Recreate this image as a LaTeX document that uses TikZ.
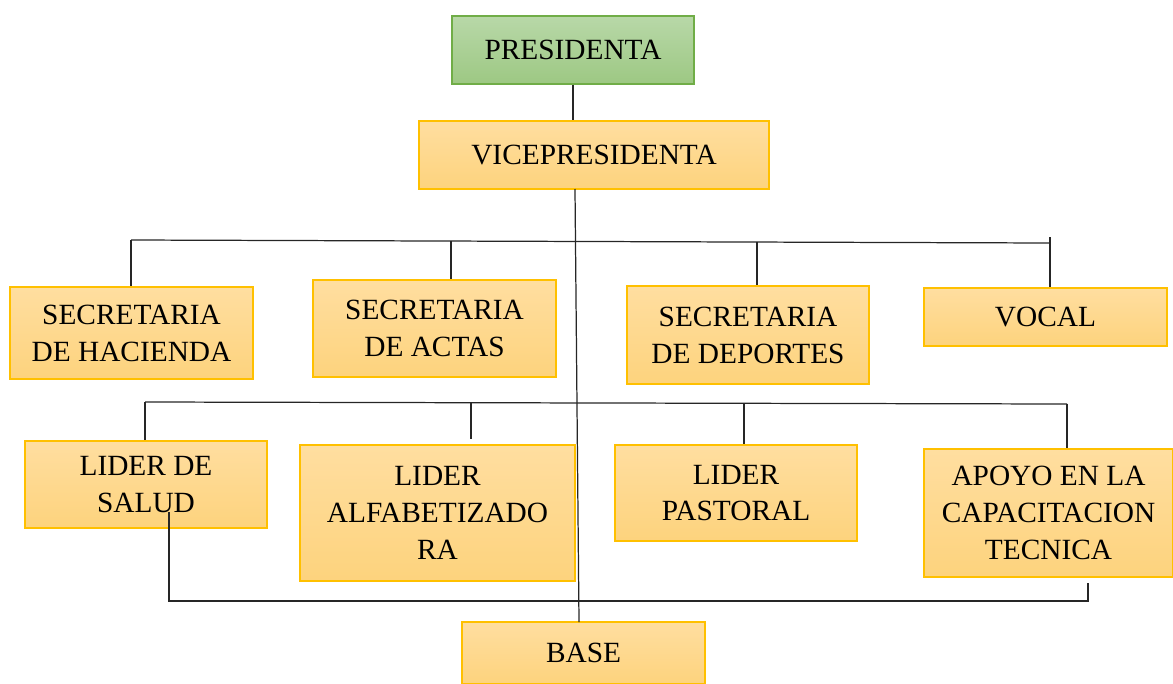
\documentclass[tikz,border=0pt]{standalone}
\usepackage{fontspec}
\setmainfont{Liberation Serif}

\definecolor{orgborde}{RGB}{255,192,0}
\definecolor{orgarriba}{RGB}{255,222,160}
\definecolor{orgabajo}{RGB}{253,211,125}
\definecolor{verdeborde}{RGB}{112,173,71}
\definecolor{verdearriba}{RGB}{184,216,168}
\definecolor{verdeabajo}{RGB}{157,200,131}

\tikzstyle{cargo}=[draw=orgborde,line width=0.8pt,top color=orgarriba,bottom color=orgabajo,inner sep=0pt,align=center,font=\fontsize{16.7}{21}\selectfont]
\tikzstyle{jefa}=[cargo,draw=verdeborde,top color=verdearriba,bottom color=verdeabajo]
\tikzstyle{linea}=[line width=0.7pt,black!85]

\begin{document}
\begin{tikzpicture}[x=0.02cm,y=-0.02cm]
	\useasboundingbox (0,0) rectangle (1173,683);
	
	\node[jefa, minimum width=4.84cm, minimum height=1.36cm] (pres) at (573,50) {PRESIDENTA};
	\node[cargo, minimum width=7cm, minimum height=1.36cm] (vice) at (594,155) {VICEPRESIDENTA};
	
	\node[cargo, minimum width=4.86cm, minimum height=1.84cm] (hac) at (131.5,333) {SECRETARIA\\DE HACIENDA};
	\node[cargo, minimum width=4.86cm, minimum height=1.94cm] (actas) at (434.5,328.5) {SECRETARIA\\DE ACTAS};
	\node[cargo, minimum width=4.84cm, minimum height=1.96cm] (dep) at (748,335) {SECRETARIA\\DE DEPORTES};
	\node[cargo, minimum width=4.86cm, minimum height=1.16cm] (vocal) at (1045.5,317) {VOCAL};
	
	\node[cargo, minimum width=4.84cm, minimum height=1.74cm] (salud) at (146,484.5) {LIDER DE\\SALUD};
	\node[cargo, minimum width=5.5cm, minimum height=2.72cm] (alfa) at (437.5,513) {LIDER\\ALFABETIZADO\\RA};
	\node[cargo, minimum width=4.84cm, minimum height=1.92cm] (past) at (736,493) {LIDER\\PASTORAL};
	\node[cargo, minimum width=4.98cm, minimum height=2.56cm] (apoyo) at (1048.5,513) {APOYO EN LA\\CAPACITACION\\TECNICA};
	
	\node[cargo, minimum width=4.86cm, minimum height=1.24cm] (base) at (583.5,653) {BASE};
	
	% puntos de los buses
	\coordinate (tronco) at (575,189);
	\coordinate (troncofin) at (579,622);
	\coordinate (b1izq) at (131,240);
	\coordinate (b1actas) at (451,241);
	\coordinate (b1dep) at (757,242);
	\coordinate (b1der) at (1050,243);
	\coordinate (b2izq) at (145,402);
	\coordinate (b2alfa) at (471,402);
	\coordinate (b2past) at (744,403);
	\coordinate (b2der) at (1067,404);
	\coordinate (lazo) at (169,512);
	\coordinate (lazofin) at (1088,583);
	
	\draw[linea] (pres.south) -- (pres.south |- vice.north);
	\draw[linea] (tronco) -- (troncofin);
	
	\draw[linea] (b1izq) -- (b1der);
	\draw[linea] (b1izq) -- (b1izq |- hac.north);
	\draw[linea] (b1actas) -- (b1actas |- actas.north);
	\draw[linea] (b1dep) -- (b1dep |- dep.north);
	\draw[linea] ([yshift=0.12cm]b1der) -- (b1der |- vocal.north);
	
	\draw[linea] (b2izq) -- (b2der);
	\draw[linea] (b2izq) -- (b2izq |- salud.north);
	\draw[linea] (b2alfa) -- ([yshift=0.1cm]b2alfa |- alfa.north);
	\draw[linea] (b2past) -- (b2past |- past.north);
	\draw[linea] (b2der) -- (b2der |- apoyo.north);
	
	\draw[linea] (lazo) -- ++(0,89) -| (lazofin);
\end{tikzpicture}
\end{document}
